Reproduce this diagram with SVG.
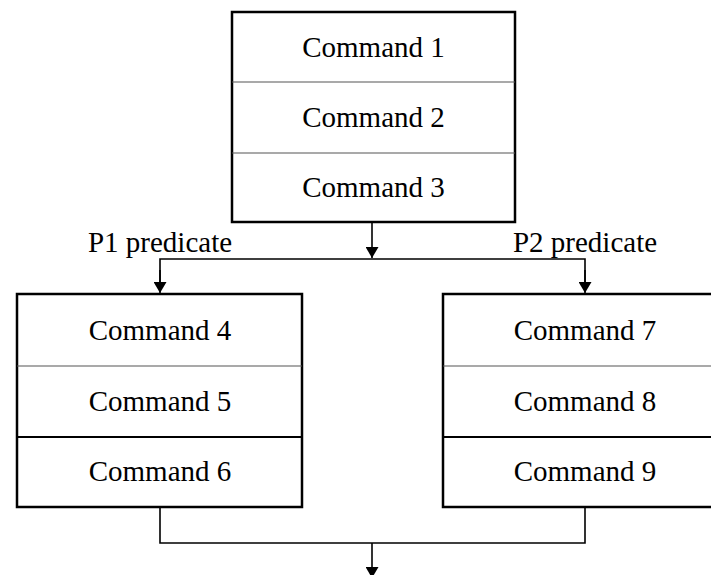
<svg xmlns="http://www.w3.org/2000/svg" width="711" height="575" viewBox="0 0 711 575">
  <style>
    .box { fill: #fff; stroke: #000; stroke-width: 2.5; }
    .sep { stroke: #555; stroke-width: 1.2; }
    .sep-strong { stroke: #000; stroke-width: 2; }
    .label { font-family: "Liberation Serif", "Times New Roman", serif; font-size: 29px; fill: #000; text-anchor: middle; }
    .wire { fill: none; stroke: #000; stroke-width: 1.6; }
  </style>
  <defs>
    <marker id="arrow" viewBox="0 0 11 13" refX="11" refY="6.5" markerWidth="11" markerHeight="13" markerUnits="userSpaceOnUse" orient="auto">
      <path d="M0,0 L11,6.5 L0,13 Z" fill="#000"/>
    </marker>
  </defs>
  <rect width="711" height="575" fill="#fff"/>

  <!-- connectors -->
  <g id="connectors">
    <line class="wire" x1="372" y1="223" x2="372" y2="258" marker-end="url(#arrow)"/>
    <polyline class="wire" points="160,283 160,259 585,259 585,283" />
    <line class="wire" x1="160" y1="270" x2="160" y2="293" marker-end="url(#arrow)"/>
    <line class="wire" x1="585" y1="270" x2="585" y2="293" marker-end="url(#arrow)"/>
    <polyline class="wire" points="160,508 160,543 585,543 585,508"/>
    <line class="wire" x1="372" y1="543" x2="372" y2="578" marker-end="url(#arrow)"/>
    <text class="label" x="160" y="252">P1 predicate</text>
    <text class="label" x="585" y="252">P2 predicate</text>
  </g>

  <!-- top block: commands 1-3 -->
  <g id="block-top">
    <rect class="box" x="232" y="12" width="283" height="210"/>
    <line class="sep" x1="232" y1="82" x2="515" y2="82"/>
    <line class="sep" x1="232" y1="153" x2="515" y2="153"/>
    <text class="label" x="373.5" y="57">Command 1</text>
    <text class="label" x="373.5" y="127">Command 2</text>
    <text class="label" x="373.5" y="197">Command 3</text>
  </g>

  <!-- left block: commands 4-6 -->
  <g id="block-left">
    <rect class="box" x="17" y="294" width="285" height="213"/>
    <line class="sep" x1="17" y1="366" x2="302" y2="366"/>
    <line class="sep-strong" x1="17" y1="437" x2="302" y2="437"/>
    <text class="label" x="160" y="340">Command 4</text>
    <text class="label" x="160" y="411">Command 5</text>
    <text class="label" x="160" y="481">Command 6</text>
  </g>

  <!-- right block: commands 7-9 -->
  <g id="block-right">
    <rect class="box" x="443" y="294" width="285" height="213"/>
    <line class="sep" x1="443" y1="366" x2="728" y2="366"/>
    <line class="sep-strong" x1="443" y1="437" x2="728" y2="437"/>
    <text class="label" x="585" y="340">Command 7</text>
    <text class="label" x="585" y="411">Command 8</text>
    <text class="label" x="585" y="481">Command 9</text>
  </g>
</svg>
